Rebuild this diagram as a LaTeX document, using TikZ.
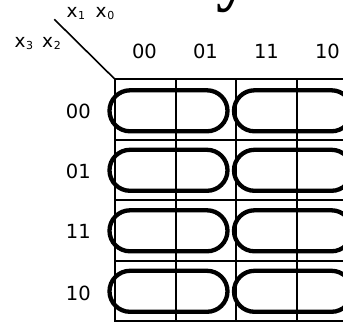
\documentclass[tikz,border=0pt]{standalone}
\usepackage{fontspec}
\setmainfont{DejaVu Sans}
\newfontfamily\titlefont{Liberation Serif}
\newcommand\lowidx[1]{\hspace{0.6pt}\raisebox{-2.7pt}{\fontsize{11}{12}\selectfont #1}}
\begin{document}
\begin{tikzpicture}[x=1pt,y=-1pt,
  lbl/.style={inner sep=0pt,font=\fontsize{19.5}{21}\selectfont},
  varlbl/.style={inner sep=0pt,anchor=base west,font=\fontsize{18.5}{20}\selectfont},
  gridline/.style={line width=2pt},
  loop/.style={line width=4.3pt,rounded corners=20.5pt}]
\useasboundingbox (0,0) rectangle (343,323);
\clip (0,0) rectangle (343,323);

% function name above the map (only its descender shows)
\node[inner sep=0pt,anchor=base west,font=\titlefont\bfseries\fontsize{66}{70}\selectfont] (fname) at (216,-1.5) {y};

% variable corner
\coordinate (corner) at (115,79.3);
\coordinate (diagend) at (54.3,19.3);
\draw[line width=1.6pt] (diagend) -- (corner);
\node[varlbl] (colvars) at (66.5,17.3) {x\lowidx{1}\hspace{10.5pt}x\lowidx{0}};
\node[varlbl] (rowvars) at (14.5,47.3) {x\lowidx{3}\hspace{9pt}x\lowidx{2}};

% grid
\foreach \x in {115,175.7,236.3,297.3,358.5}
  \draw[gridline] (\x,79.3) -- (\x,321.5);
\foreach \y in {79.3,140,200.5,261,321.5}
  \draw[gridline] (114,\y) -- (360,\y);

% column labels
\node[lbl] (c00) at (144.5,51.3) {00};
\node[lbl] (c01) at (205.5,51.3) {01};
\node[lbl] (c11) at (266.5,51.3) {11};
\node[lbl] (c10) at (327.5,51.3) {10};

% row labels
\node[lbl,anchor=east] (r00) at (91,111.3) {00};
\node[lbl,anchor=east] (r01) at (91,171.5) {01};
\node[lbl,anchor=east] (r11) at (91,231) {11};
\node[lbl,anchor=east] (r10) at (91,293) {10};

% groupings
\foreach \yc in {110.8,170.3,230.8,291.3} {
  \draw[loop] (109.5,\yc-20.5) rectangle (227.5,\yc+20.5);
  \draw[loop] (234,\yc-20.5) rectangle (352,\yc+20.5);
}
\end{tikzpicture}
\end{document}
